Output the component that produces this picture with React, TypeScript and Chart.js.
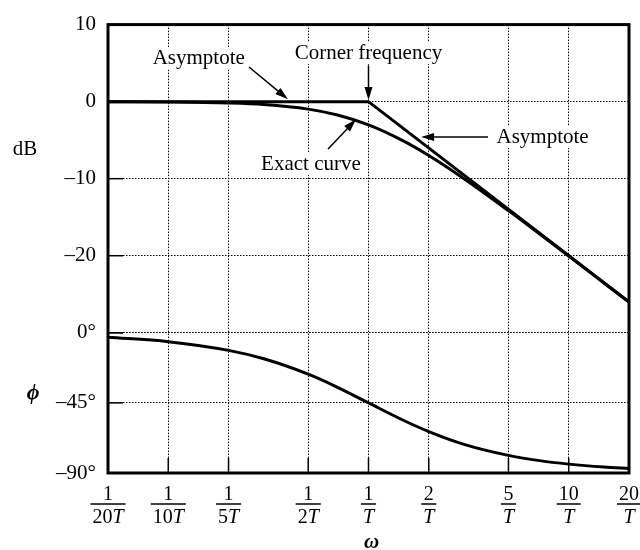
import React, { useEffect, useRef } from "react";
import { Chart, registerables } from "chart.js";

Chart.register(...registerables);

// ---- data (T = 1) ----
const omega = [0.05, 0.1, 0.2, 0.3, 0.5, 0.7, 1, 1.5, 2, 3, 5, 7, 10, 15, 20];
const exactDb = [-0.01, -0.04, -0.17, -0.37, -0.97, -1.73, -3.01, -5.12, -6.99, -10.0, -14.15, -16.99, -20.04, -23.54, -26.03];
const phaseDeg = [-2.9, -5.7, -11.3, -16.7, -26.6, -35.0, -45.0, -56.3, -63.4, -71.6, -78.7, -81.9, -84.3, -86.2, -87.1];
const asymOmega = [0.05, 1, 20];
const asymDb = [0, 0, -26.0];

const xTickValues = [0.05, 0.1, 0.2, 0.5, 1, 2, 5, 10, 20];
const xTickNum = ["1", "1", "1", "1", "1", "2", "5", "10", "20"];
const xTickDen = ["20", "10", "5", "2", "", "", "", "", ""];
const dbTicks = [10, 0, -10, -20, -30];
const phaseTicks = [0, -45, -90];

// annotations in data coordinates (omega, dB)
const noteTexts = ["Asymptote", "Corner frequency", "Asymptote", "Exact curve"];
const noteX = [0.142, 1.0, 7.4, 0.516];
const noteY = [5.6, 6.3, -4.6, -8.1];
const arrowFrom = [[0.253, 4.5], [1.0, 4.7], [3.95, -4.6], [0.628, -6.15]];
const arrowTo = [[0.396, 0.3], [1.0, 0.2], [1.83, -4.6], [0.867, -2.3]];

const SERIF = "'Liberation Serif', 'Times New Roman', serif";
const MINUS = "\u2013";

const fmtNum = (v: number) => (v < 0 ? MINUS + Math.abs(v) : String(v));

function drawArrow(ctx: CanvasRenderingContext2D, x1: number, y1: number, x2: number, y2: number) {
  const ang = Math.atan2(y2 - y1, x2 - x1);
  const len = 13;
  const hw = 4;
  ctx.beginPath();
  ctx.moveTo(x1, y1);
  ctx.lineTo(x2 - Math.cos(ang) * len * 0.8, y2 - Math.sin(ang) * len * 0.8);
  ctx.lineWidth = 1.5;
  ctx.stroke();
  ctx.beginPath();
  ctx.moveTo(x2, y2);
  ctx.lineTo(x2 - Math.cos(ang) * len + Math.sin(ang) * hw, y2 - Math.sin(ang) * len - Math.cos(ang) * hw);
  ctx.lineTo(x2 - Math.cos(ang) * len - Math.sin(ang) * hw, y2 - Math.sin(ang) * len + Math.cos(ang) * hw);
  ctx.closePath();
  ctx.fill();
}

const decorPlugin = {
  id: "bodeDecor",
  afterDraw(chart: any) {
    const ctx: CanvasRenderingContext2D = chart.ctx;
    const { left, right, top, bottom } = chart.chartArea;
    const xs = chart.scales.x;
    const yd = chart.scales.yDb;
    const yp = chart.scales.yPhase;
    ctx.save();
    ctx.strokeStyle = "#000";
    ctx.fillStyle = "#000";

    // inward ticks
    ctx.lineWidth = 1.5;
    const tl = 15;
    xTickValues.forEach((v) => {
      const px = xs.getPixelForValue(v);
      ctx.beginPath();
      ctx.moveTo(px, bottom);
      ctx.lineTo(px, bottom - tl);
      ctx.stroke();
    });
    dbTicks.forEach((v) => {
      const py = yd.getPixelForValue(v);
      ctx.beginPath();
      ctx.moveTo(left, py);
      ctx.lineTo(left + tl, py);
      ctx.stroke();
    });
    phaseTicks.forEach((v) => {
      const py = yp.getPixelForValue(v);
      ctx.beginPath();
      ctx.moveTo(left, py);
      ctx.lineTo(left + tl, py);
      ctx.stroke();
    });

    // frame
    ctx.lineWidth = 3;
    ctx.strokeRect(left, top, right - left, bottom - top);

    // x fraction labels
    const regFont = `20px ${SERIF}`;
    const itFont = `italic 20px ${SERIF}`;
    ctx.textBaseline = "middle";
    xTickValues.forEach((v, i) => {
      const px = xs.getPixelForValue(v);
      ctx.font = regFont;
      const nw = ctx.measureText(xTickNum[i]).width;
      ctx.textAlign = "center";
      ctx.fillText(xTickNum[i], px, bottom + 22);
      const dReg = xTickDen[i];
      ctx.font = regFont;
      const w1 = ctx.measureText(dReg).width;
      ctx.font = itFont;
      const w2 = ctx.measureText("T").width;
      const dw = w1 + w2;
      ctx.textAlign = "left";
      ctx.font = regFont;
      ctx.fillText(dReg, px - dw / 2, bottom + 45);
      ctx.font = itFont;
      ctx.fillText("T", px - dw / 2 + w1, bottom + 45);
      const bw = Math.max(nw, dw) + 4;
      ctx.lineWidth = 1.5;
      ctx.beginPath();
      ctx.moveTo(px - bw / 2, bottom + 31);
      ctx.lineTo(px + bw / 2, bottom + 31);
      ctx.stroke();
    });

    // axis labels
    ctx.textAlign = "center";
    ctx.font = `21px ${SERIF}`;
    ctx.fillText("dB", left - 83, yd.getPixelForValue(-6.15));
    ctx.font = `bold italic 22px ${SERIF}`;
    ctx.fillText("\u03D5", left - 75, yp.getPixelForValue(-38.7));
    ctx.font = `bold italic 21px ${SERIF}`;
    ctx.fillText("\u03C9", (left + right) / 2 + 3, bottom + 70);

    // annotations (white box behind each so grid lines break around the text)
    ctx.font = `21px ${SERIF}`;
    noteTexts.forEach((t, i) => {
      const cx = xs.getPixelForValue(noteX[i]);
      const cy = yd.getPixelForValue(noteY[i]);
      const w = ctx.measureText(t).width;
      ctx.fillStyle = "#fff";
      ctx.fillRect(cx - w / 2 - 3, cy - 11, w + 6, 22);
      ctx.fillStyle = "#000";
      ctx.fillText(t, cx, cy);
    });
    arrowFrom.forEach((f, i) => {
      const t = arrowTo[i];
      drawArrow(
        ctx,
        xs.getPixelForValue(f[0]),
        yd.getPixelForValue(f[1]),
        xs.getPixelForValue(t[0]),
        yd.getPixelForValue(t[1])
      );
    });
    ctx.restore();
  },
};

export default function App() {
  const ref = useRef<HTMLCanvasElement | null>(null);
  useEffect(() => {
    if (!ref.current) return;
    const gridCommon = {
      color: "#000",
      lineWidth: 1,
      drawTicks: false,
    };
    const chart = new Chart(ref.current, {
      type: "line",
      data: {
        datasets: [
          {
            label: "Asymptote",
            data: asymOmega.map((w, i) => ({ x: w, y: asymDb[i] })),
            yAxisID: "yDb",
            borderColor: "#000",
            borderWidth: 3,
            pointRadius: 0,
            tension: 0,
          },
          {
            label: "Exact curve",
            data: omega.map((w, i) => ({ x: w, y: exactDb[i] })),
            yAxisID: "yDb",
            borderColor: "#000",
            borderWidth: 3,
            pointRadius: 0,
            cubicInterpolationMode: "monotone",
          },
          {
            label: "Phase",
            data: omega.map((w, i) => ({ x: w, y: phaseDeg[i] })),
            yAxisID: "yPhase",
            borderColor: "#000",
            borderWidth: 3,
            pointRadius: 0,
            cubicInterpolationMode: "monotone",
          },
        ],
      },
      options: {
        animation: false,
        responsive: false,
        maintainAspectRatio: false,
        layout: { padding: { top: 19, right: 11, bottom: 0, left: 0 } },
        plugins: { legend: { display: false }, tooltip: { enabled: false } },
        scales: {
          x: {
            type: "logarithmic",
            min: 0.05,
            max: 20,
            afterBuildTicks: (s: any) => {
              s.ticks = xTickValues.map((v) => ({ value: v }));
            },
            afterFit: (s: any) => {
              s.height = 77;
            },
            ticks: { display: false },
            grid: gridCommon,
            border: { display: false, dash: [1.5, 1.5] },
          },
          yDb: {
            type: "linear",
            position: "left",
            stack: "bode",
            stackWeight: 312,
            weight: 2,
            min: -30,
            max: 10,
            afterBuildTicks: (s: any) => {
              s.ticks = dbTicks.map((v) => ({ value: v }));
            },
            afterFit: (s: any) => {
              s.width = 108;
            },
            ticks: {
              color: "#000",
              padding: 12,
              font: { family: SERIF, size: 21 },
              callback: (v: any) => (v === -30 ? "" : fmtNum(Number(v))),
            },
            grid: gridCommon,
            border: { display: false, dash: [1.5, 1.5] },
          },
          yPhase: {
            type: "linear",
            position: "left",
            stack: "bode",
            stackWeight: 142,
            weight: 1,
            min: -90,
            max: 0,
            afterBuildTicks: (s: any) => {
              s.ticks = phaseTicks.map((v) => ({ value: v }));
            },
            afterFit: (s: any) => {
              s.width = 108;
            },
            ticks: {
              color: "#000",
              padding: 12,
              font: { family: SERIF, size: 21 },
              callback: (v: any) => fmtNum(Number(v)) + "\u00B0",
            },
            grid: gridCommon,
            border: { display: false, dash: [1.5, 1.5] },
          },
        },
      } as any,
      plugins: [decorPlugin],
    });
    return () => chart.destroy();
  }, []);
  return (
    <div style={{ position: "absolute", left: 0, top: 0, width: 640, height: 550, background: "#fff" }}>
      <canvas ref={ref} width={640} height={550} style={{ display: "block" }} />
    </div>
  );
}
